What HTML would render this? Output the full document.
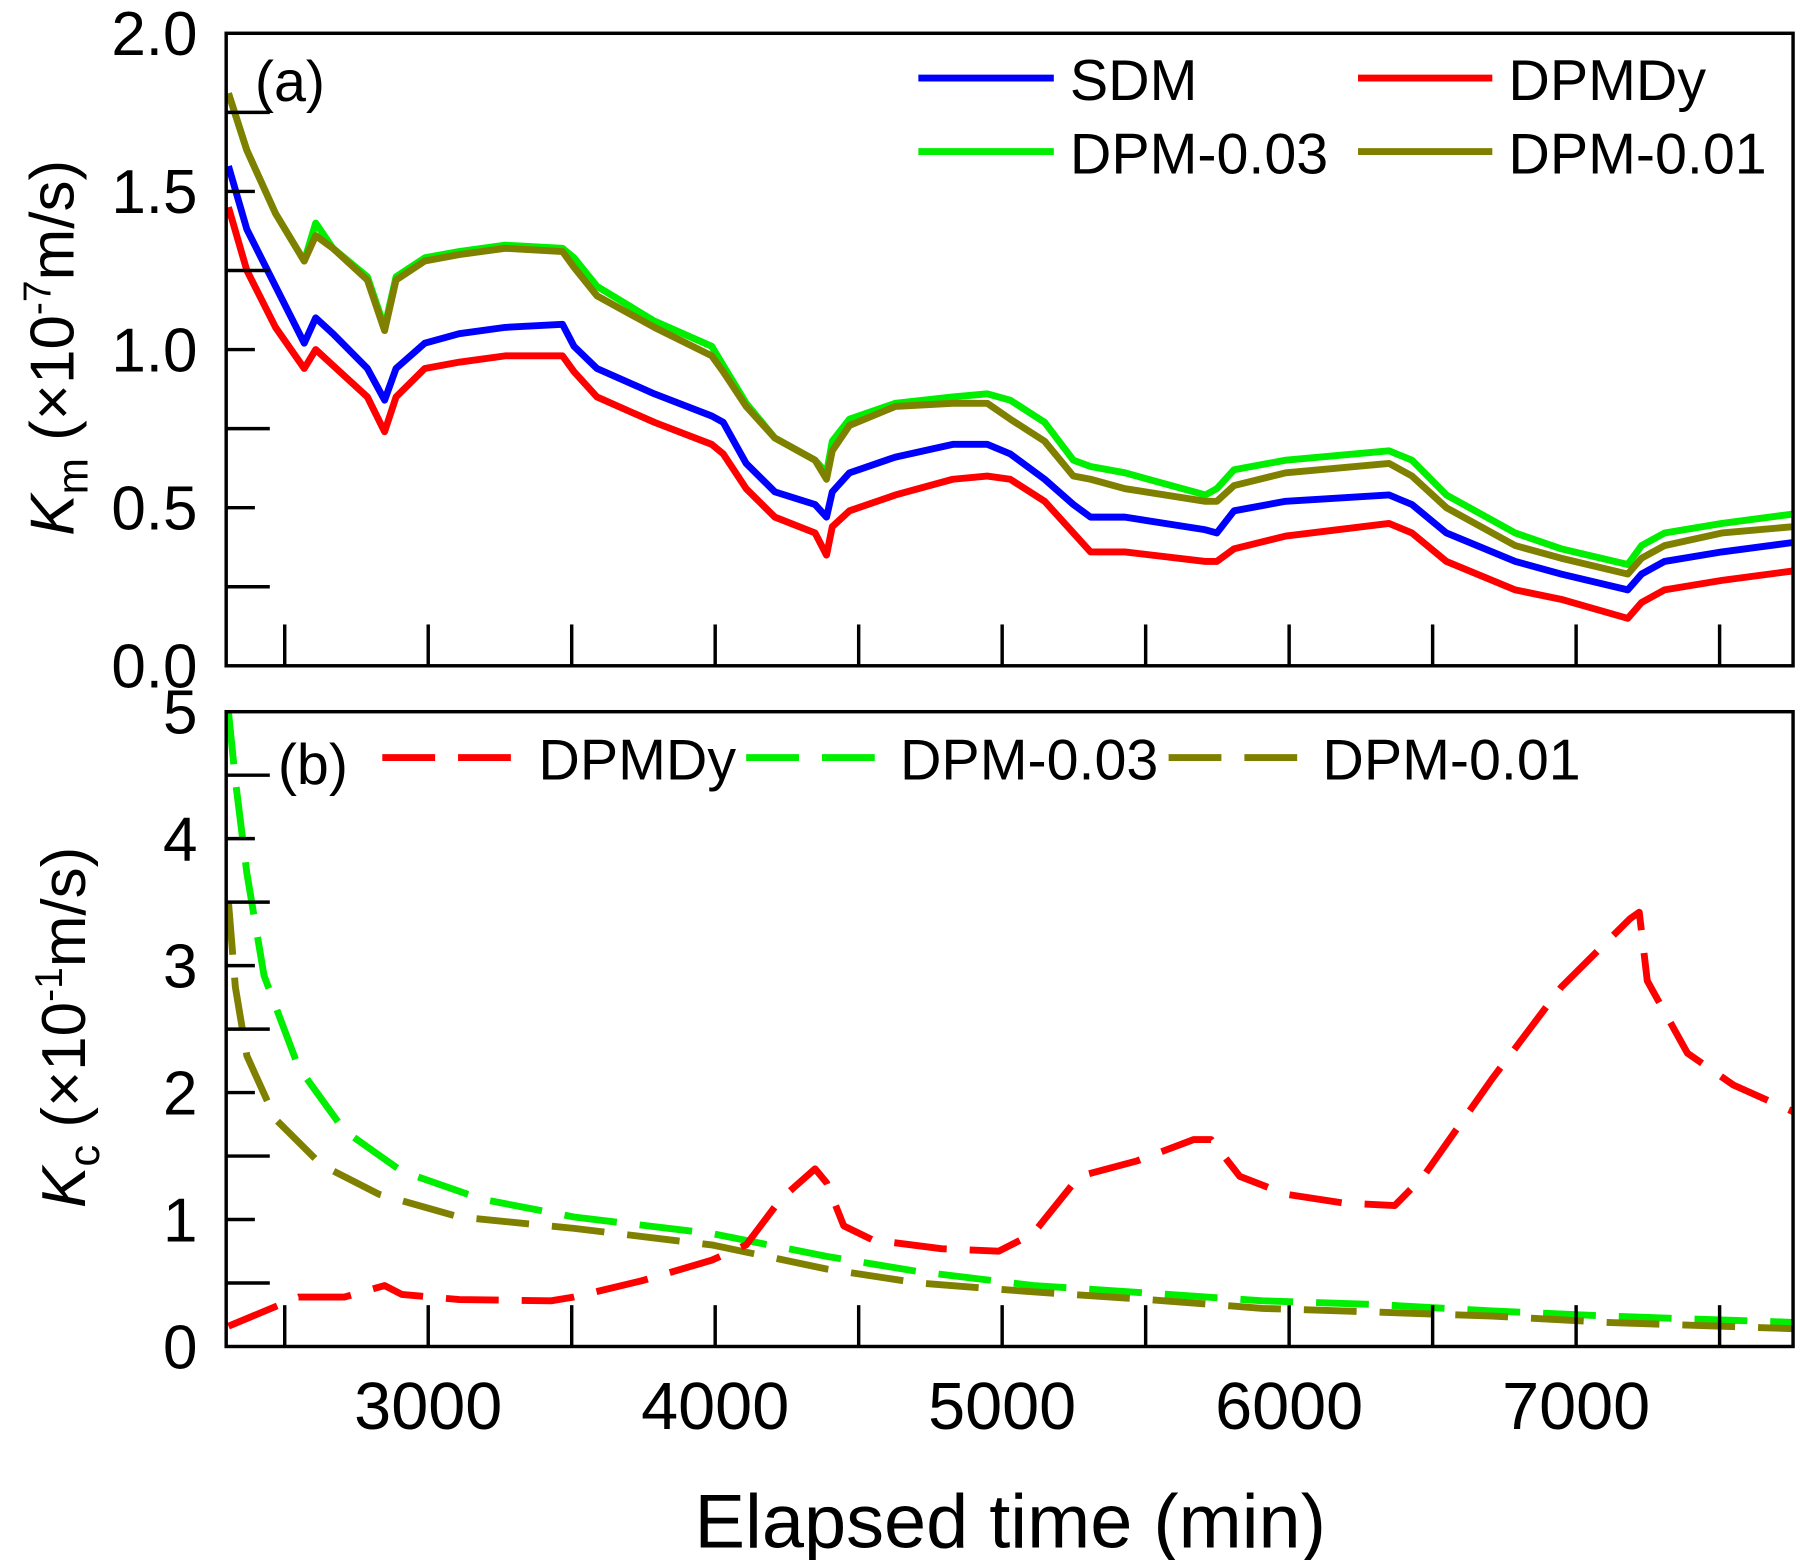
<!DOCTYPE html>
<html><head><meta charset="utf-8"><style>
html,body{margin:0;padding:0;background:#fff}
svg{display:block}
text{font-family:"Liberation Sans",Arial,sans-serif;fill:#000}
</style></head><body>
<svg id="chart" width="1800" height="1560" viewBox="0 0 1568 1359" xmlns="http://www.w3.org/2000/svg">
<g id="topPanel"></g>
<g id="botPanel"></g>
<g id="static">
<text x="222" y="88" font-size="50">(a)</text>
<text x="242" y="683" font-size="50">(b)</text>
<text x="880" y="1348" font-size="66" text-anchor="middle">Elapsed time (min)</text>
<text transform="translate(64,303) rotate(-90)" font-size="54" text-anchor="middle"><tspan font-style="italic">K</tspan><tspan font-size="38" dy="12">m</tspan><tspan dy="-12"> (×10</tspan><tspan font-size="34" dy="-20">-7</tspan><tspan dy="20">m/s)</tspan></text>
<text transform="translate(74,895) rotate(-90)" font-size="54" text-anchor="middle"><tspan font-style="italic">K</tspan><tspan font-size="38" dy="12">c</tspan><tspan dy="-12"> (×10</tspan><tspan font-size="34" dy="-20">-1</tspan><tspan dy="20">m/s)</tspan></text>
</g>
</svg>
<script>
const NS="http://www.w3.org/2000/svg";
const xMin=2296, xMax=7756;
const xTickLabels=[3000,4000,5000,6000,7000];
const tTop=[2304,2368,2468,2568,2608,2668,2788,2848,2888,2988,3108,3268,3468,3508,3588,3788,3988,4028,4108,4208,4348,4388,4408,4468,4628,4828,4948,5028,5148,5248,5308,5428,5708,5748,5808,5988,6348,6428,6548,6788,6948,7180,7228,7308,7508,7756];
const sdm=[1.58,1.38,1.20,1.02,1.10,1.05,0.94,0.84,0.94,1.02,1.05,1.07,1.08,1.01,0.94,0.86,0.79,0.77,0.64,0.55,0.51,0.47,0.55,0.61,0.66,0.70,0.70,0.67,0.59,0.51,0.47,0.47,0.43,0.42,0.49,0.52,0.54,0.51,0.42,0.33,0.29,0.24,0.29,0.33,0.36,0.39];
const dpmdy=[1.45,1.25,1.07,0.94,1.00,0.95,0.85,0.74,0.85,0.94,0.96,0.98,0.98,0.93,0.85,0.77,0.70,0.67,0.56,0.47,0.42,0.35,0.44,0.49,0.54,0.59,0.60,0.59,0.52,0.42,0.36,0.36,0.33,0.33,0.37,0.41,0.45,0.42,0.33,0.24,0.21,0.15,0.20,0.24,0.27,0.30];
const dpm003=[1.81,1.63,1.43,1.28,1.40,1.32,1.23,1.07,1.23,1.29,1.31,1.33,1.32,1.29,1.20,1.09,1.01,0.95,0.83,0.72,0.65,0.61,0.71,0.78,0.83,0.85,0.86,0.84,0.77,0.65,0.63,0.61,0.54,0.56,0.62,0.65,0.68,0.65,0.54,0.42,0.37,0.32,0.38,0.42,0.45,0.48];
const dpm001=[1.81,1.63,1.43,1.28,1.36,1.32,1.22,1.06,1.22,1.28,1.30,1.32,1.31,1.26,1.17,1.07,0.98,0.93,0.82,0.72,0.65,0.59,0.68,0.76,0.82,0.83,0.83,0.78,0.71,0.60,0.59,0.56,0.52,0.52,0.57,0.61,0.64,0.60,0.50,0.38,0.34,0.29,0.34,0.38,0.42,0.44];
const topTickLabels=["0.0","0.5","1.0","1.5","2.0"];
const tRed=[2304,2548,2708,2848,2908,3108,3428,3508,3748,3988,4108,4228,4348,4388,4448,4548,4788,4988,5108,5268,5468,5668,5728,5828,5988,6188,6368,6468,6708,6948,7188,7220,7248,7388,7548,7756];
const kcDpmdy=[0.16,0.39,0.39,0.48,0.41,0.37,0.36,0.39,0.52,0.68,0.80,1.16,1.40,1.29,0.95,0.84,0.77,0.75,0.89,1.34,1.46,1.63,1.63,1.34,1.20,1.13,1.11,1.34,2.11,2.83,3.37,3.42,2.88,2.31,2.06,1.85];
const tGreen=[2304,2328,2368,2428,2548,2708,2908,3188,3508,3988,4388,4708,5108,5508,5908,6308,6708,7108,7756];
const kcDpm003=[5.0,4.46,3.73,2.92,2.2,1.70,1.38,1.16,1.02,0.89,0.71,0.59,0.48,0.42,0.36,0.33,0.28,0.24,0.19];
const tOlive=[2304,2328,2368,2468,2628,2828,3108,3508,3988,4388,4708,5108,5508,5908,6308,6708,7108,7756];
const kcDpm001=[3.5,2.83,2.29,1.79,1.43,1.20,1.02,0.93,0.80,0.61,0.50,0.43,0.37,0.30,0.27,0.24,0.19,0.14];
const botTickLabels=["0","1","2","3","4","5"];

const L=197,R=1562;
const xs=t=>L+(t-xMin)/(xMax-xMin)*(R-L);
const yTop=v=>580-v/2.0*551;
const yBot=v=>1173-v/5*553;

function el(tag,attrs,parent){const e=document.createElementNS(NS,tag);for(const k in attrs)e.setAttribute(k,attrs[k]);parent.appendChild(e);return e;}
const topG=document.getElementById('topPanel'), botG=document.getElementById('botPanel');

function series(parent,ts,vs,yf,color,dash,name){
  const d=ts.map((t,i)=>(i?'L':'M')+xs(t).toFixed(1)+' '+yf(vs[i]).toFixed(1)).join(' ');
  const p=el('path',{d:d,fill:'none',stroke:color,'stroke-width':6,'stroke-linejoin':'round'},parent);
  if(dash)p.setAttribute('stroke-dasharray',dash);
  
  
}
series(topG,tTop,dpm003,yTop,'#00ee00',null,'line-dpm-003');
series(topG,tTop,dpm001,yTop,'#808000',null,'line-dpm-001');
series(topG,tTop,sdm,yTop,'#0000ff',null,'line-sdm');
series(topG,tTop,dpmdy,yTop,'#ff0000',null,'line-dpmdy');
series(botG,tGreen,kcDpm003,yBot,'#00ee00','46 20','line-kc-dpm-003');
series(botG,tOlive,kcDpm001,yBot,'#808000','46 20','line-kc-dpm-001');
series(botG,tRed,kcDpmdy,yBot,'#ff0000','46 20','line-kc-dpmdy');

function frame(parent,y0,y1,name){const r=el('rect',{x:L,y:y0,width:R-L,height:y1-y0,fill:'none',stroke:'#000','stroke-width':3},parent);

}
frame(topG,29,580,'plot-frame-a');
frame(botG,620,1173,'plot-frame-b');

for(let t=2500;t<=7500;t+=500){
  const x=xs(t), len=36;
  const a=el('line',{x1:x,x2:x,y1:580,y2:580-len,stroke:'#000','stroke-width':3},topG);
  
  
  const b=el('line',{x1:x,x2:x,y1:1173,y2:1173-len,stroke:'#000','stroke-width':3},botG);
  
  
}
xTickLabels.forEach(t=>{const tx=el('text',{x:xs(t),y:1245,'font-size':58,'text-anchor':'middle'},botG);tx.textContent=t;

});
for(let v=0.25;v<2;v+=0.25){const isMaj=Math.abs(v*2-Math.round(v*2))<1e-6;
  const ln=el('line',{x1:L,x2:L+(isMaj?25:38),y1:yTop(v),y2:yTop(v),stroke:'#000','stroke-width':3},topG);
  
  }
topTickLabels.forEach(s=>{const tx=el('text',{x:172,y:yTop(+s)+19,'font-size':54,'text-anchor':'end'},topG);tx.textContent=s;

});
for(let v=0.5;v<5;v+=0.5){const isMaj=Math.abs(v-Math.round(v))<1e-6;
  const ln=el('line',{x1:L,x2:L+(isMaj?25:38),y1:yBot(v),y2:yBot(v),stroke:'#000','stroke-width':3},botG);
  
  }
botTickLabels.forEach(s=>{const tx=el('text',{x:172,y:yBot(+s)+19,'font-size':54,'text-anchor':'end'},botG);tx.textContent=s;

});

function leg(parent,x1,x2,y,color,dash,label,name){
  const g=el('g',{},parent);
  
  
  const l=el('line',{x1:x1,x2:x2,y1:y,y2:y,stroke:color,'stroke-width':6},g);
  if(dash)l.setAttribute('stroke-dasharray',dash);
  const t=el('text',{x:x2+14,y:y+19,'font-size':50},g);t.textContent=label;
}
leg(topG,800,918,68,'#0000ff',null,'SDM','legend-sdm');
leg(topG,1183,1300,68,'#ff0000',null,'DPMDy','legend-dpmdy');
leg(topG,800,918,132,'#00ee00',null,'DPM-0.03','legend-dpm-003');
leg(topG,1183,1300,132,'#808000',null,'DPM-0.01','legend-dpm-001');
leg(botG,333,455,660,'#ff0000','46 20','DPMDy','legend-kc-dpmdy');
leg(botG,650,770,660,'#00ee00','46 20','DPM-0.03','legend-kc-dpm-003');
leg(botG,1018,1138,660,'#808000','46 20','DPM-0.01','legend-kc-dpm-001');
</script>
</body></html>
